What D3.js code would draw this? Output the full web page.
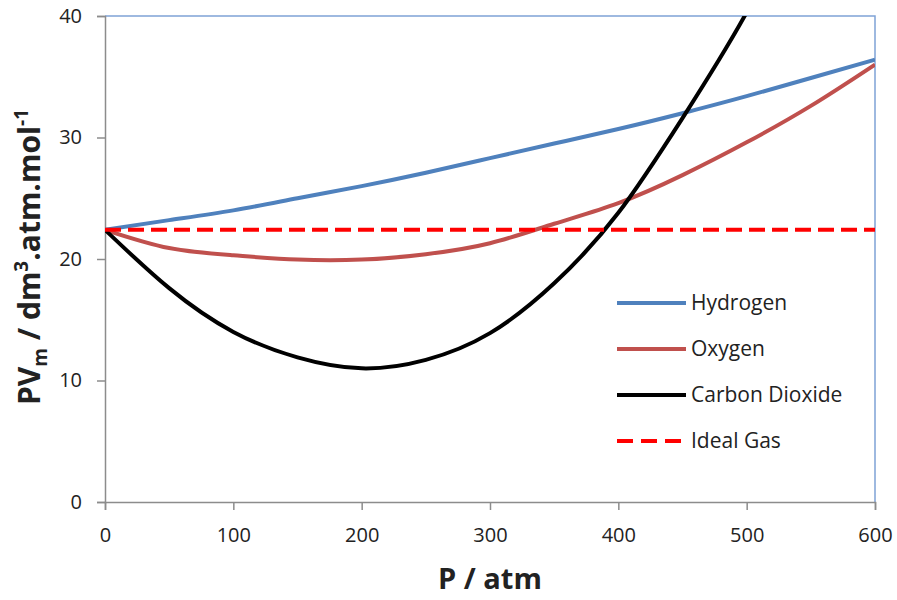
<!DOCTYPE html>
<html>
<head>
<meta charset="utf-8">
<script src="https://cdn.jsdelivr.net/npm/d3@7"></script>
<style>
  body { margin: 0; background: #fff; }
  text { font-family: "Open Sans", "DejaVu Sans", sans-serif; }
</style>
</head>
<body>
<svg id="chart" width="897" height="600"></svg>
<script>
// pressure values (atm)
const pressure = [0, 50, 100, 150, 200, 250, 300, 350, 400, 450, 500, 550, 600];
// PVm values (dm3.atm.mol-1)
const hydrogen = [22.4, 23.2, 24.0, 25.0, 26.0, 27.1, 28.3, 29.5, 30.7, 32.0, 33.4, 34.9, 36.4];
const oxygen   = [22.4, 20.9, 20.3, 19.95, 19.95, 20.4, 21.3, 22.9, 24.6, 26.9, 29.6, 32.6, 36.0];
const co2      = [22.4, 17.6, 14.0, 11.9, 11.0, 11.7, 13.9, 18.0, 23.8, 31.6, 40.3, 51, 63];
const ideal    = [22.4, 22.4, 22.4, 22.4, 22.4, 22.4, 22.4, 22.4, 22.4, 22.4, 22.4, 22.4, 22.4];

const xTicks = [0, 100, 200, 300, 400, 500, 600];
const yTicks = [0, 10, 20, 30, 40];

const seriesNames = ["Hydrogen", "Oxygen", "Carbon Dioxide", "Ideal Gas"];
const seriesValues = [hydrogen, oxygen, co2, ideal];
const seriesColors = ["#4F81BD", "#C0504D", "#000000", "#FF0000"];
const seriesDash = [null, null, null, "16,7"];

var cfg = {
  width: 770,
  height: 486,
  margin: {top: 16, left: 105}
};

var scale = {
  x: d3.scaleLinear().domain([0, 600]).range([cfg.margin.left, cfg.margin.left + cfg.width]),
  y: d3.scaleLinear().domain([0, 40]).range([cfg.margin.top + cfg.height, cfg.margin.top])
};

var svg = d3.select("#chart");

svg.append("defs").append("clipPath")
  .attr("id", "plot-clip")
  .append("rect")
  .attr("x", cfg.margin.left)
  .attr("y", cfg.margin.top)
  .attr("width", cfg.width)
  .attr("height", cfg.height);

// top and right border (blue)
svg.append("path")
  .attr("d", `M${scale.x(0)},${scale.y(40)}H${scale.x(600)}V${scale.y(0)}`)
  .attr("fill", "none")
  .attr("stroke", "#7FA3D6")
  .attr("stroke-width", 1.5);

// x axis
let xAxis = svg.append("g")
  .attr("transform", `translate(0, ${scale.y(0)})`)
  .call(d3.axisBottom(scale.x).tickValues(xTicks).tickSize(8).tickPadding(18).tickFormat(d3.format("d")));
xAxis.select(".domain").attr("stroke", "#8c8c8c").attr("stroke-width", 1.5);
xAxis.selectAll("line").attr("stroke", "#8c8c8c").attr("stroke-width", 1.5);
xAxis.selectAll("text").attr("fill", "#222").style("font-size", "20px");

// y axis
let yAxis = svg.append("g")
  .attr("transform", `translate(${scale.x(0)}, 0)`)
  .call(d3.axisLeft(scale.y).tickValues(yTicks).tickSize(8).tickPadding(15).tickFormat(d3.format("d")));
yAxis.select(".domain").attr("stroke", "#8c8c8c").attr("stroke-width", 1.5);
yAxis.selectAll("line").attr("stroke", "#8c8c8c").attr("stroke-width", 1.5);
yAxis.selectAll("text").attr("fill", "#222").style("font-size", "20px");

// lines
var line = d3.line()
  .x((d, i) => scale.x(pressure[i]))
  .y(d => scale.y(d))
  .curve(d3.curveNatural);

svg.append("g")
  .attr("clip-path", "url(#plot-clip)")
  .selectAll("path")
  .data(seriesValues)
  .enter().append("path")
  .attr("d", d => line(d))
  .attr("fill", "none")
  .attr("stroke", (d, i) => seriesColors[i])
  .attr("stroke-width", 4)
  .attr("stroke-dasharray", (d, i) => seriesDash[i]);

// legend
let legendG = svg.append("g").attr("transform", "translate(617, 303)");
let items = legendG.selectAll("g")
  .data(seriesNames)
  .enter().append("g")
  .attr("transform", (d, i) => `translate(0, ${i * 46})`);
items.append("line")
  .attr("x1", 0).attr("x2", 69)
  .attr("stroke", (d, i) => seriesColors[i])
  .attr("stroke-width", 4)
  .attr("stroke-dasharray", (d, i) => seriesDash[i] ? "16,8" : null);
items.append("text")
  .attr("x", 74)
  .attr("dy", "0.35em")
  .style("font-size", "21px")
  .attr("fill", "#222")
  .text(d => d);

// axis titles
svg.append("text")
  .attr("x", scale.x(300))
  .attr("y", 589)
  .attr("text-anchor", "middle")
  .style("font-size", "29px")
  .style("font-weight", "bold")
  .attr("fill", "#222")
  .text("P / atm");

let yTitle = svg.append("text")
  .attr("transform", `translate(40, 257) rotate(-90)`)
  .attr("text-anchor", "middle")
  .style("font-size", "30px")
  .style("font-weight", "bold")
  .attr("fill", "#222");
yTitle.append("tspan").text("PV");
yTitle.append("tspan").attr("dy", 7).style("font-size", "19px").text("m");
yTitle.append("tspan").attr("dy", -7).text(" / dm");
yTitle.append("tspan").attr("dy", -12).style("font-size", "19px").text("3");
yTitle.append("tspan").attr("dy", 12).text(".atm.mol");
yTitle.append("tspan").attr("dy", -12).style("font-size", "19px").text("-1");
</script>
</body>
</html>
